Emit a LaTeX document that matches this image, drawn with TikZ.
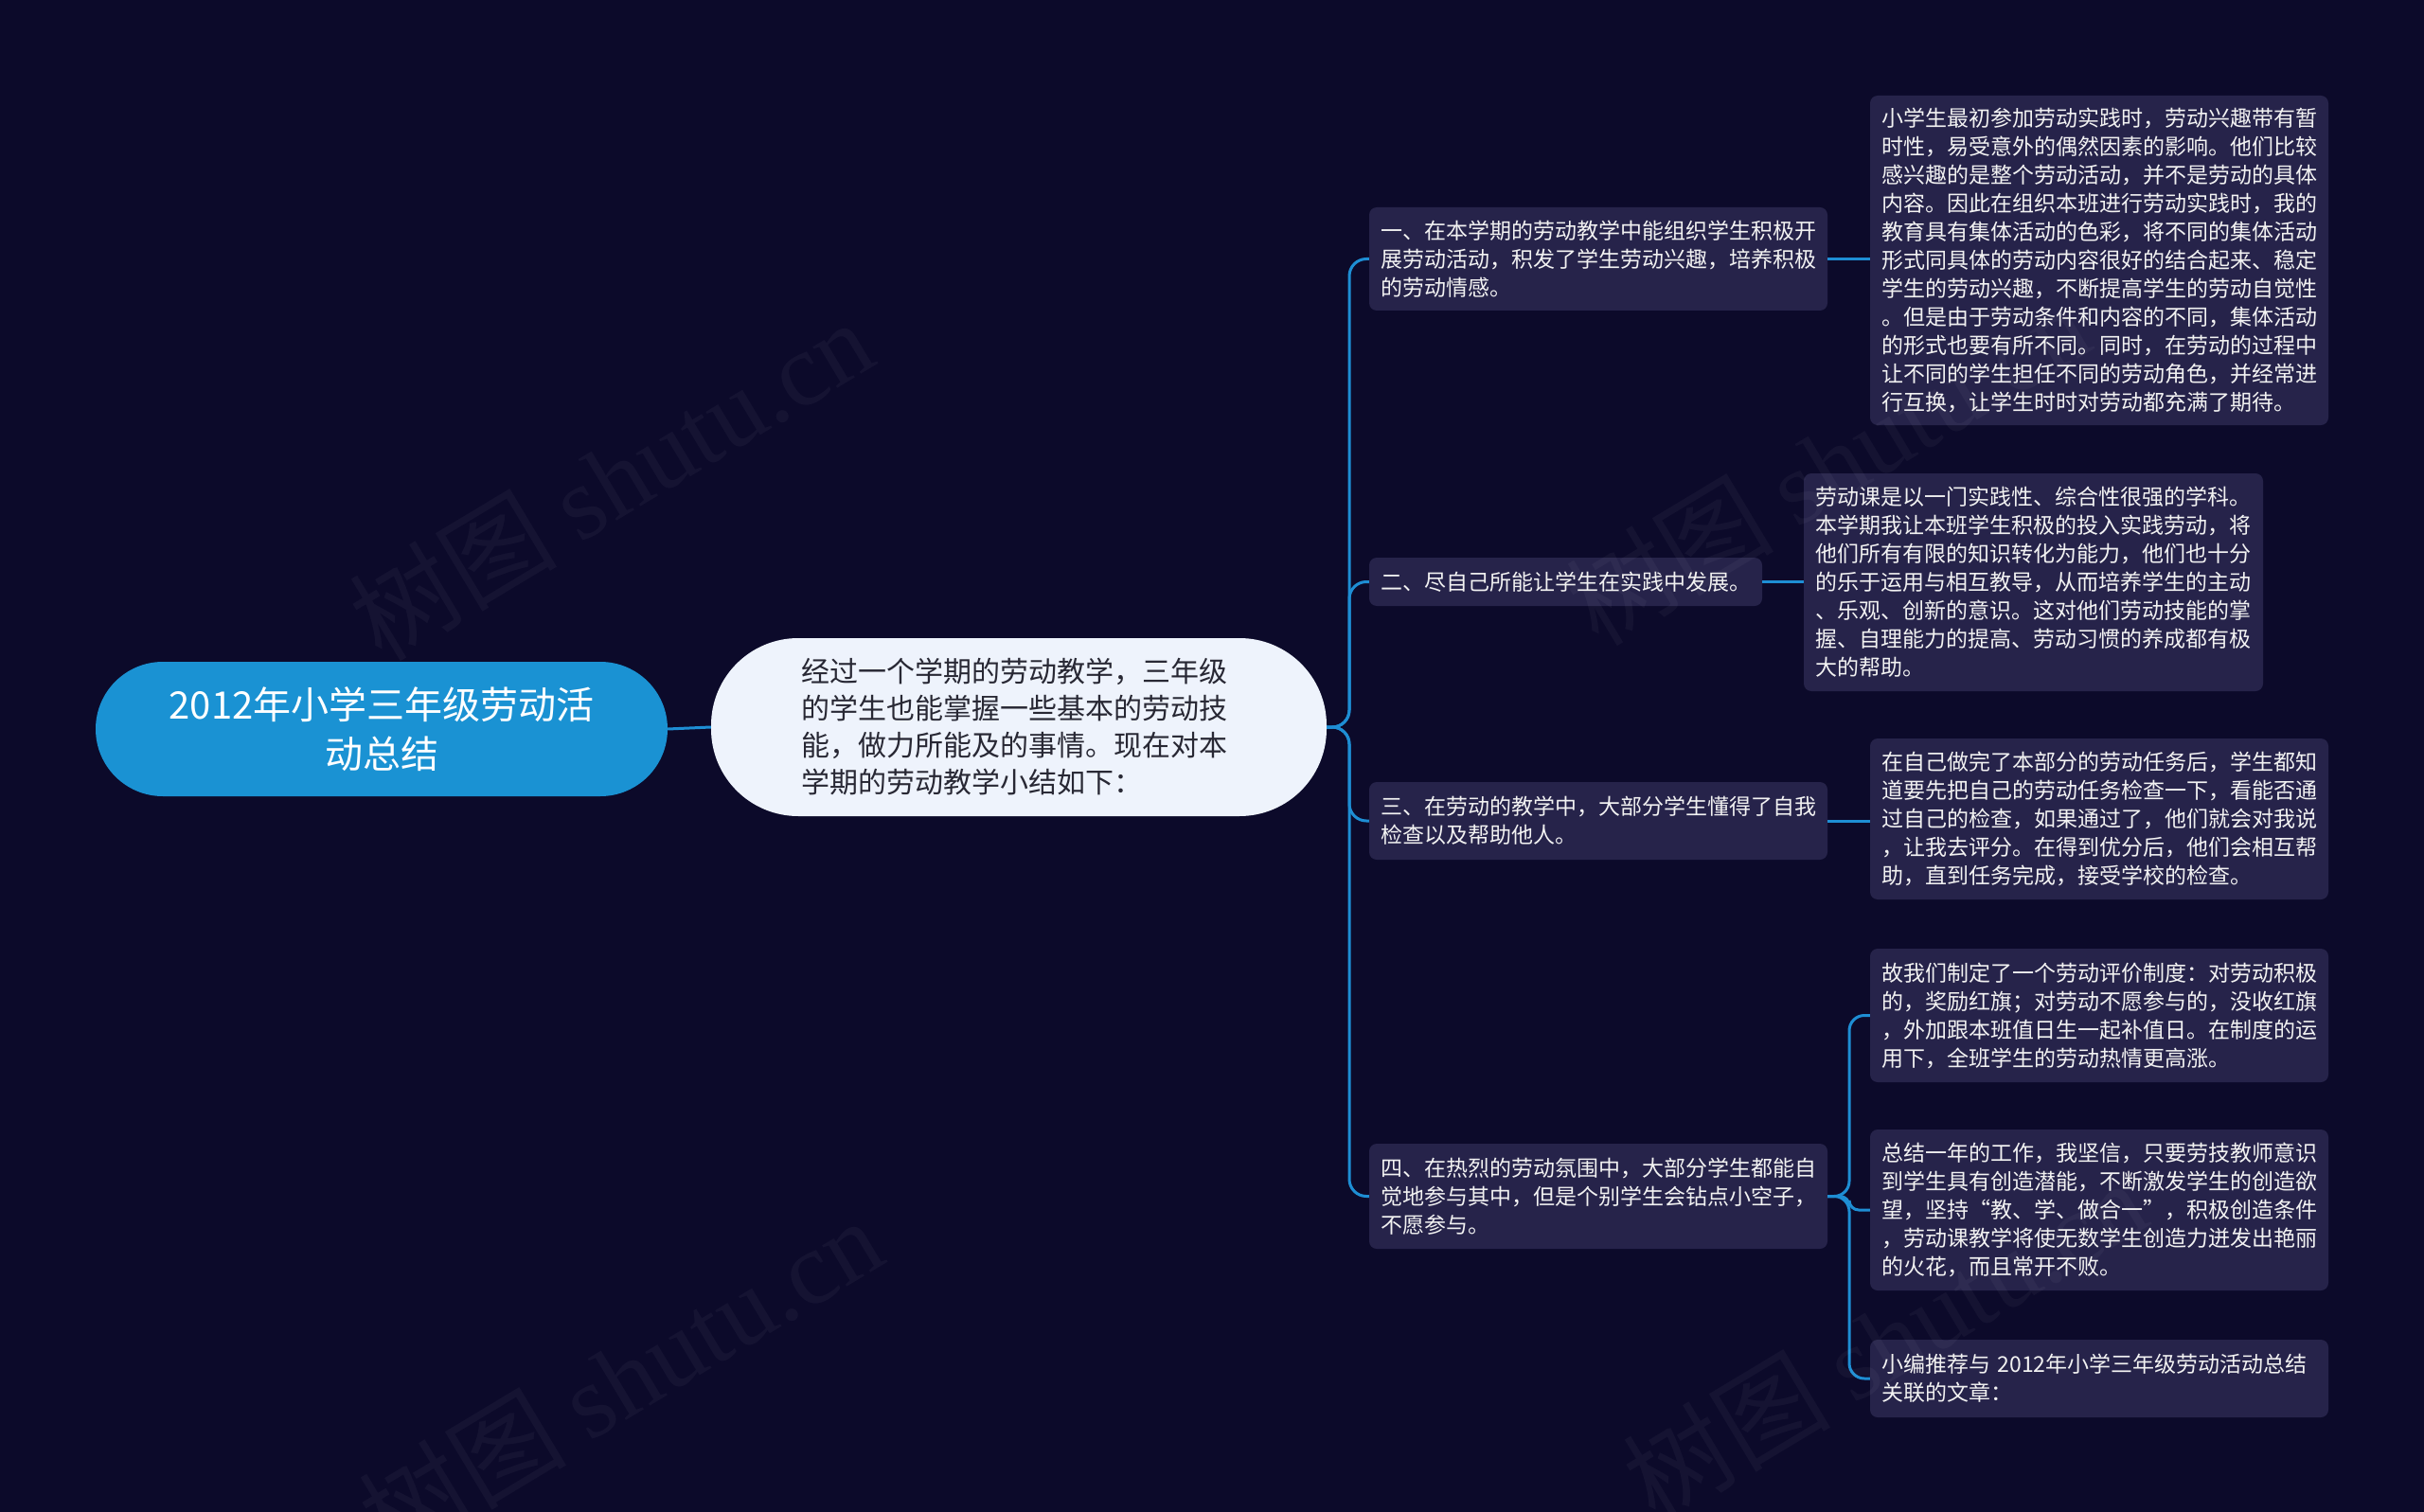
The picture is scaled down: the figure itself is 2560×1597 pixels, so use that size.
\documentclass[tikz,border=0pt]{standalone}
\usepackage{fontspec}
\setmainfont{Noto Sans CJK SC}
\newfontfamily\wmlatin{Liberation Serif}
\definecolor{bgc}{RGB}{12,10,42}
\definecolor{boxc}{RGB}{38,35,74}
\definecolor{linec}{RGB}{30,142,212}
\definecolor{rootc}{RGB}{26,146,211}
\definecolor{centc}{RGB}{238,243,252}
\definecolor{centt}{RGB}{40,40,52}
\tikzset{
  conn/.style={draw=linec, line width=3pt},
  rootn/.style={fill=rootc, rounded corners=71pt, minimum width=604pt, minimum height=142pt, inner sep=0pt, text=white, font=\fontsize{40}{52}\selectfont, align=center},
  centn/.style={fill=centc, rounded corners=92pt, minimum width=650pt, minimum height=188pt, inner sep=0pt, text=centt, font=\fontsize{30}{39}\selectfont, align=left, text width=460pt},
  boxn/.style={fill=boxc, rounded corners=8pt, inner xsep=12pt, inner ysep=0pt, text=white!95!black, font=\fontsize{23}{30}\selectfont, align=left},
  wm/.style={text=white, opacity=0.04, rotate=31, font=\fontsize{110}{110}\selectfont}
}
\begin{document}
\begin{tikzpicture}[x=1pt,y=-1pt]
\fill[bgc] (0,0) rectangle (2560,1597);
\useasboundingbox (0,0) rectangle (2560,1597);

% root and central
\node[rootn] (root) at (403,770) {2012年小学三年级劳动活\\动总结};
\node[centn] (c) at (1076,768) {经过一个学期的劳动教学，三年级\\的学生也能掌握一些基本的劳动技\\能，做力所能及的事情。现在对本\\学期的劳动教学小结如下：};

% level 2
\node[boxn, text width=460pt, minimum height=109pt] (b1) at (1688,273.5) {一、在本学期的劳动教学中能组织学生积极开\\展劳动活动，积发了学生劳动兴趣，培养积极\\的劳动情感。};
\node[boxn, text width=391pt, minimum height=51pt] (b2) at (1653.5,614.5) {二、尽自己所能让学生在实践中发展。};
\node[boxn, text width=460pt, minimum height=82pt] (b3) at (1688,867) {三、在劳动的教学中，大部分学生懂得了自我\\检查以及帮助他人。};
\node[boxn, text width=460pt, minimum height=111pt] (b4) at (1688,1263.5) {四、在热烈的劳动氛围中，大部分学生都能自\\觉地参与其中，但是个别学生会钻点小空子，\\不愿参与。};

% leaves
\node[boxn, text width=460pt, minimum height=348pt] (l1) at (2217,275) {小学生最初参加劳动实践时，劳动兴趣带有暂\\时性，易受意外的偶然因素的影响。他们比较\\感兴趣的是整个劳动活动，并不是劳动的具体\\内容。因此在组织本班进行劳动实践时，我的\\教育具有集体活动的色彩，将不同的集体活动\\形式同具体的劳动内容很好的结合起来、稳定\\学生的劳动兴趣，不断提高学生的劳动自觉性\\。但是由于劳动条件和内容的不同，集体活动\\的形式也要有所不同。同时，在劳动的过程中\\让不同的学生担任不同的劳动角色，并经常进\\行互换，让学生时时对劳动都充满了期待。};
\node[boxn, text width=461pt, minimum height=230pt] (l2) at (2147.5,615) {劳动课是以一门实践性、综合性很强的学科。\\本学期我让本班学生积极的投入实践劳动，将\\他们所有有限的知识转化为能力，他们也十分\\的乐于运用与相互教导，从而培养学生的主动\\、乐观、创新的意识。这对他们劳动技能的掌\\握、自理能力的提高、劳动习惯的养成都有极\\大的帮助。};
\node[boxn, text width=460pt, minimum height=170pt] (l3) at (2217,865) {在自己做完了本部分的劳动任务后，学生都知\\道要先把自己的劳动任务检查一下，看能否通\\过自己的检查，如果通过了，他们就会对我说\\，让我去评分。在得到优分后，他们会相互帮\\助，直到任务完成，接受学校的检查。};
\node[boxn, text width=460pt, minimum height=141pt] (l4a) at (2217,1072.5) {故我们制定了一个劳动评价制度：对劳动积极\\的，奖励红旗；对劳动不愿参与的，没收红旗\\，外加跟本班值日生一起补值日。在制度的运\\用下，全班学生的劳动热情更高涨。};
\node[boxn, text width=460pt, minimum height=170pt] (l4b) at (2217,1278) {总结一年的工作，我坚信，只要劳技教师意识\\到学生具有创造潜能，不断激发学生的创造欲\\望，坚持“教、学、做合一”，积极创造条件\\，劳动课教学将使无数学生创造力迸发出艳丽\\的火花，而且常开不败。};
\node[boxn, text width=460pt, minimum height=82pt] (l4c) at (2217,1456) {小编推荐与 2012年小学三年级劳动活动总结\\关联的文章：};

% connectors
\draw[conn] (root.east) -- (c.west);
\coordinate (tk) at (1425,768);
\draw[conn, rounded corners=18pt] (c.east) -- (tk) |- (b1.west);
\draw[conn, rounded corners=18pt] (c.east) -- (tk) |- (b2.west);
\draw[conn, rounded corners=18pt] (c.east) -- (tk) |- (b3.west);
\draw[conn, rounded corners=18pt] (c.east) -- (tk) |- (b4.west);
\draw[conn] (b1.east) -- (b1.east -| l1.west);
\draw[conn] (b2.east) -- (b2.east -| l2.west);
\draw[conn] (b3.east) -- (b3.east -| l3.west);
\coordinate (tk4) at (1953,1263.5);
\draw[conn, rounded corners=16pt] (b4.east) -- (tk4) |- (l4a.west);
\draw[conn, rounded corners=10pt] (b4.east) -- (tk4) |- (l4b.west);
\draw[conn, rounded corners=16pt] (b4.east) -- (tk4) |- (l4c.west);

% watermarks
\node[wm] (w1) at (645,506) {树图 {\wmlatin shutu.cn}};
\node[wm] (w2) at (655,1455) {树图 {\wmlatin shutu.cn}};
\node[wm] (w3) at (1930,490) {树图 {\wmlatin shutu.cn}};
\node[wm] (w4) at (1990,1415) {树图 {\wmlatin shutu.cn}};
\end{tikzpicture}
\end{document}
